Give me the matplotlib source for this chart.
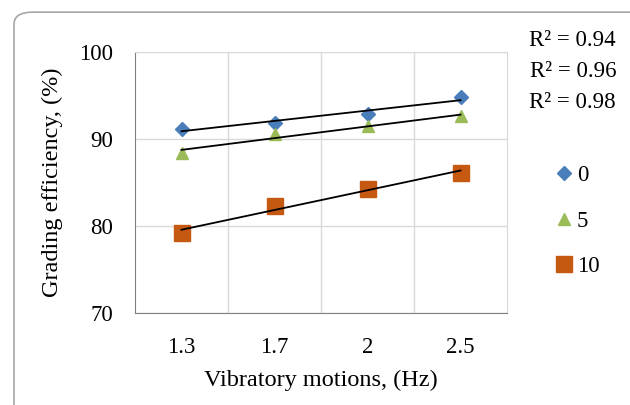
import numpy as np
import matplotlib.pyplot as plt
from matplotlib.patches import FancyBboxPatch

plt.rcParams['font.family'] = ['Liberation Serif', 'DejaVu Serif']

freq_labels = ['1.3', '1.7', '2', '2.5']
eff_0 = [91.2, 91.8, 92.9, 94.8]
eff_5 = [88.4, 90.6, 91.5, 92.6]
eff_10 = [79.2, 82.3, 84.3, 86.1]
r2_labels = ['R² = 0.94', 'R² = 0.96', 'R² = 0.98']

series = [('0', eff_0, 'D', '#4A7EBB', 7),
          ('5', eff_5, '^', '#9BBB59', 9),
          ('10', eff_10, 's', '#C65911', 11)]

fig = plt.figure(figsize=(6.3, 4.05), dpi=100)
ax = fig.add_axes([135/630, 1-313/405, 372/630, 261/405])

x = np.arange(1, len(freq_labels) + 1)
for name, vals, mk, col, ms in series:
    ax.plot(x, vals, linestyle='none', marker=mk, color=col, markersize=ms,
            label=name, zorder=3)
    k, b = np.polyfit(x, vals, 1)
    ax.plot(x, k * x + b, color='black', lw=1.3, zorder=4)

ax.set_xlim(0.5, 4.5)
ax.set_ylim(70, 100)
ax.set_yticks([70, 80, 90, 100])
ax.set_xticks(x)
ax.set_xticklabels(freq_labels)
ax.set_xticks([1.5, 2.5, 3.5], minor=True)
ax.grid(True, which='minor', axis='x', color='#D9D9D9', lw=1)
ax.grid(True, which='major', axis='y', color='#D9D9D9', lw=1)
ax.tick_params(which='both', length=0, labelsize=16.5)
ax.tick_params(axis='y', pad=16)
ax.tick_params(axis='x', pad=17)
for s in ['top', 'right']:
    ax.spines[s].set_color('#D9D9D9')
for s in ['left', 'bottom']:
    ax.spines[s].set_color('#808080')
ax.set_axisbelow(True)

ax.set_xlabel('Vibratory motions, (Hz)', fontsize=17.5, labelpad=9)
ax.set_ylabel('Grading efficiency, (%)', fontsize=17.5, labelpad=11)

leg = fig.legend(loc='center left', bbox_to_anchor=(532/630, 1-221/405),
                 frameon=False, fontsize=16.5, handletextpad=0.05,
                 handlelength=1.0, labelspacing=1.05)

for i, t in enumerate(r2_labels):
    fig.text(616/630, 1-(40 + 31.5*i)/405, t, ha='right', va='center', fontsize=16.5)

fig.patches.append(FancyBboxPatch((14/630, -0.05), 1.05, 1.02,
                                  boxstyle='round,pad=0,rounding_size=0.03',
                                  transform=fig.transFigure, fill=False,
                                  edgecolor='#A6A6A6', lw=1.2))

fig.savefig('out.png', dpi=100)
